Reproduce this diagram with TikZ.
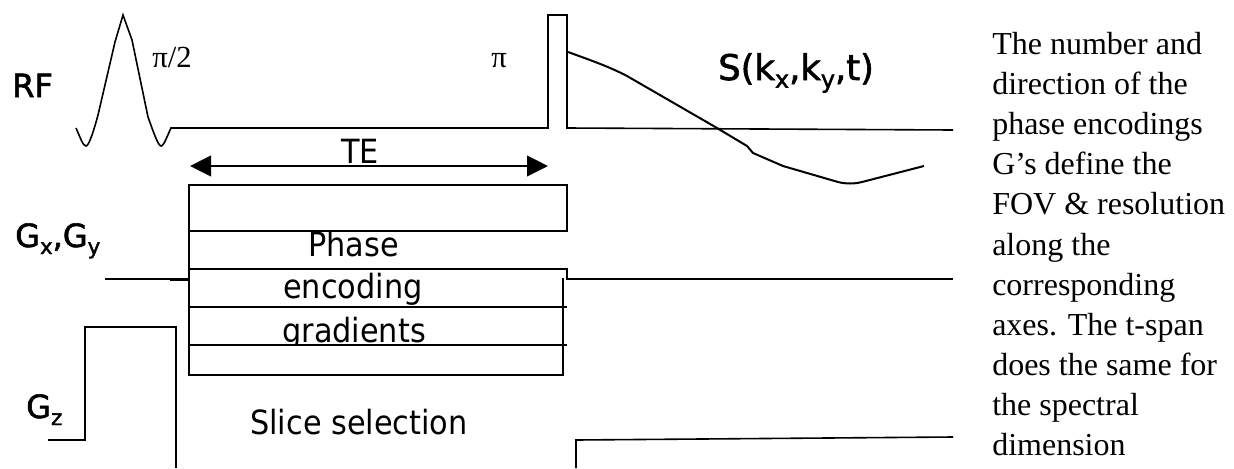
\documentclass[tikz,border=0pt]{standalone}
\usepackage{fontspec}
\setmainfont{Liberation Serif}
\newfontfamily\lab[FakeStretch=0.91]{DejaVu Sans}
\newfontfamily\labb[FakeBold=1.8]{DejaVu Sans}
\usetikzlibrary{arrows.meta}
\newcommand{\subb}[1]{\raisebox{-0.22em}{\fontsize{16}{16}\selectfont #1}}
\newcommand{\subc}[1]{\raisebox{-0.22em}{\fontsize{18}{18}\selectfont #1}}
\tikzset{
  x=0.75pt,y=-0.75pt,
  wave/.style={draw=black,line width=1.2pt,line join=miter},
  sig/.style={draw=black,line width=1.5pt,line join=round},
  sanslab/.style={inner sep=0pt,anchor=base west,font=\lab\fontsize{25}{25}\selectfont},
  boldlab/.style={inner sep=0pt,anchor=base west,font=\labb\fontsize{24}{24}\selectfont},
  siglab/.style={inner sep=0pt,anchor=base west,font=\labb\fontsize{26.5}{26.5}\selectfont},
  serifsym/.style={inner sep=0pt,anchor=base west,font=\fontsize{23}{23}\selectfont},
  note/.style={inner sep=0pt,anchor=base west,font=\fontsize{24}{24}\selectfont},
  tearrow/.style={line width=1.2pt,{Triangle[length=15.75pt,width=15.5pt]}-{Triangle[length=15.75pt,width=15.5pt]}}
}
\begin{document}
\begin{tikzpicture}
\useasboundingbox (0,0) rectangle (1234,468);
% RF
\draw[wave] (76,128) .. controls (80,137) and (83,146) .. (86,146) .. controls (89,146) and (94,130) .. (98,115) -- (115,42) -- (123,15) -- (132,40) -- (148,117) .. controls (152,128) and (158,146) .. (161,146) .. controls (164,146) and (168,134) .. (171,128) -- (548,128) -- (548,15) -- (567,15) -- (567,128) -- (953,130);
% signal
\draw[sig] (568,52) .. controls (590,60) and (610,67) .. (627,76) -- (717,128) -- (747,146) -- (753,153) -- (783,166) -- (838,182) .. controls (846,184) and (854,184) .. (862,182) -- (924,166);
% TE arrow
\coordinate (tel) at (190,166);
\coordinate (ter) at (548,166);
\draw[tearrow] (tel) -- (ter);
% gradient box
\draw[wave] (189,185) rectangle (567,231);
\draw[wave] (189,231) -- (189,375) -- (563,375) -- (563,278);
\draw[wave] (189,269) -- (567,269) -- (567,279) -- (953,279);
\draw[wave] (189,307) -- (567,307);
\draw[wave] (189,345) -- (567,345);
\draw[wave] (105,279) -- (189,279);
\draw[line width=1.7pt] (170,280) -- (189,280);
% Gz
\draw[wave] (48,440) -- (85,440) -- (85,327) -- (176,327) -- (176,468);
\draw[wave] (576,468) -- (576,440) -- (953,437);
% labels
\node[boldlab] (rf) at (12,97) {RF};
\node[serifsym] (p2) at (152,67) {π/2};
\node[serifsym] (p) at (491,67) {π};
\node[sanslab] (te) at (341,163) {TE};
\node[siglab] (sig) at (718,80) {S(k\subc{x},k\subc{y},t)};
\node[boldlab] (gg) at (15,247) {G\subb{x},G\subb{y}};
\node[boldlab] (gz) at (26,418) {G\subb{z}};
\node[sanslab] (ph) at (308,256) {Phase};
\node[sanslab] (en) at (283,298) {encoding};
\begin{scope}
\clip (270,310) rectangle (440,345);
\node[sanslab] (gr) at (282,342) {gradients};
\end{scope}
\node[sanslab] (sl) at (250,434) {Slice selection};
% note
\node[note] at (992,54) {The number and};
\node[note] at (992,94) {direction of the};
\node[note] at (992,134) {phase encodings};
\node[note] at (992,174) {G’s define the};
\node[note] at (992,214) {FOV \& resolution};
\node[note] at (992,255) {along the};
\node[note] at (992,295) {corresponding};
\node[note] at (992,335) {axes. The t-span};
\node[note] at (992,375) {does the same for};
\node[note] at (992,415) {the spectral};
\node[note] at (992,455) {dimension};
\end{tikzpicture}
\end{document}
